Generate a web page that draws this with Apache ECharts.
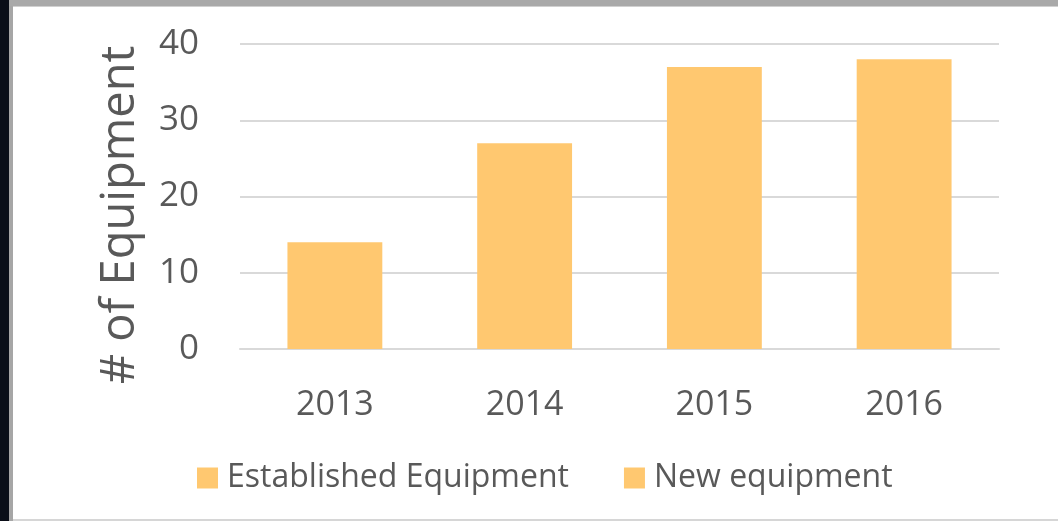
<!DOCTYPE html>
<html>
<head>
<meta charset="utf-8">
<script src="https://cdn.jsdelivr.net/npm/echarts@6/dist/echarts.min.js"></script>
<style>
html,body{margin:0;padding:0;background:#ffffff;}
#chart{width:1058px;height:521px;}
</style>
</head>
<body>
<div id="chart"></div>
<script>
const categories = ['2013', '2014', '2015', '2016'];
const establishedEquipment = [14, 27, 37, 38];
const newEquipment = [0, 0, 0, 0];
const yTicks = [0, 10, 20, 30, 40];
const seriesNames = ['Established Equipment', 'New equipment'];
const axisTitle = '# of Equipment';

const chart = echarts.init(document.getElementById('chart'), null, {renderer: 'canvas'});
const FONT = 'Open Sans';
const TXT = '#595959';
const BAR = '#FFC870';

chart.setOption({
  animation: false,
  backgroundColor: '#ffffff',
  graphic: [
    {type: 'rect', left: 0, top: 0, shape: {width: 9, height: 521}, style: {fill: '#0a0e18'}, z: 100},
    {type: 'rect', left: 9, top: 0, shape: {width: 4, height: 521}, style: {fill: '#a6a6a6'}, z: 100},
    {type: 'rect', left: 9, top: 0, shape: {width: 1049, height: 6}, style: {fill: '#a9a9a9'}, z: 100},
    {type: 'rect', left: 13, top: 6, shape: {width: 1045, height: 1}, style: {fill: '#d0d0d0'}, z: 100},
    {type: 'rect', left: 13, top: 519, shape: {width: 1045, height: 2}, style: {fill: '#d6d6d6'}, z: 100},
    {type: 'text', x: 121, y: 215, rotation: Math.PI / 2,
     style: {text: axisTitle, fill: TXT, font: '47px "' + FONT + '"', textAlign: 'center', textVerticalAlign: 'middle'}, z: 100}
  ],
  legend: {
    data: seriesNames,
    left: 192,
    top: 457,
    itemWidth: 21,
    itemHeight: 21,
    itemGap: 55,
    icon: 'rect',
    textStyle: {color: TXT, fontSize: 32, fontFamily: FONT, padding: [0, 0, 0, 4]}
  },
  grid: {left: 240, right: 59, top: 44, bottom: 172, containLabel: false},
  xAxis: {
    type: 'category',
    data: categories,
    axisLine: {show: true, lineStyle: {color: '#d9d9d9', width: 2}},
    axisTick: {show: false},
    axisLabel: {color: TXT, fontSize: 34, fontFamily: FONT, margin: 39}
  },
  yAxis: {
    type: 'value',
    min: yTicks[0],
    max: yTicks[yTicks.length - 1],
    interval: 10,
    axisLine: {show: false},
    axisTick: {show: false},
    splitLine: {lineStyle: {color: '#d9d9d9', width: 2}},
    axisLabel: {color: TXT, fontSize: 35, fontFamily: FONT, margin: 41}
  },
  series: [
    {name: seriesNames[0], type: 'bar', stack: 'total', data: establishedEquipment, barWidth: '50%', itemStyle: {color: BAR}},
    {name: seriesNames[1], type: 'bar', stack: 'total', data: newEquipment, barWidth: '50%', itemStyle: {color: BAR}}
  ]
});
</script>
</body>
</html>
